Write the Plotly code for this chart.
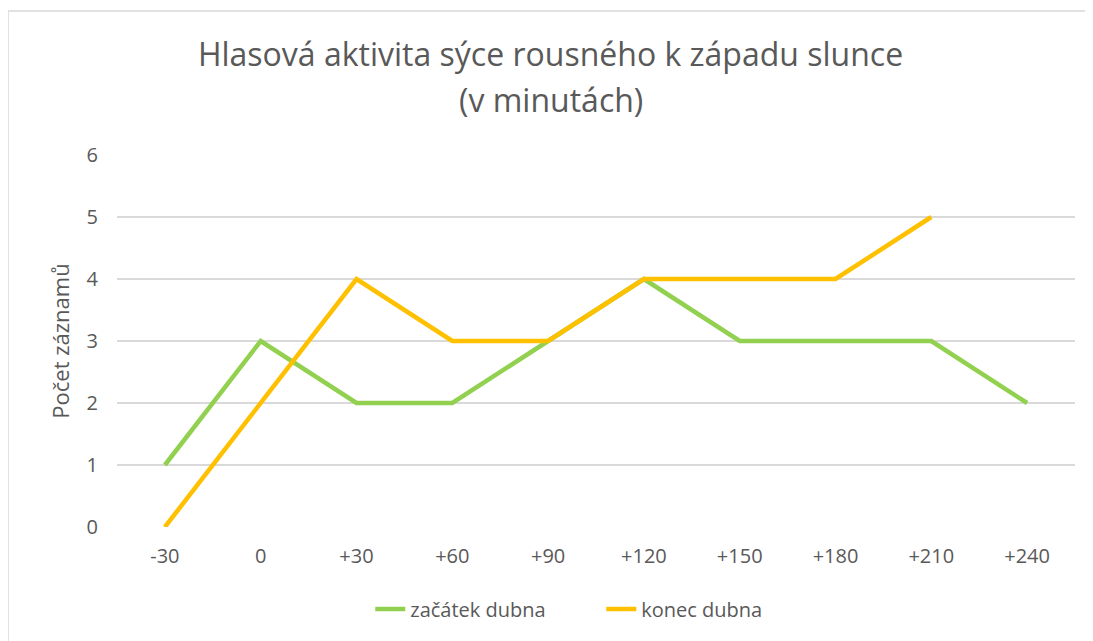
import plotly.graph_objects as go

categories = ["-30", "0", "+30", "+60", "+90", "+120", "+150", "+180", "+210", "+240"]
zacatek_dubna = [1, 3, 2, 2, 3, 4, 3, 3, 3, 2]
konec_dubna = [0, 2, 4, 3, 3, 4, 4, 4, 5, None]

title_line1 = "Hlasová aktivita sýce rousného k západu slunce"
title_line2 = "(v minutách)"

FONT = "Open Sans"
TXT = "#595959"

W, H = 1085, 633
L, R, T, B = 109, 18, 147, 114
PW, PH = W - L - R, H - T - B

fig = go.Figure()
fig.add_trace(go.Scatter(x=categories, y=zacatek_dubna, mode="lines", name="začátek dubna",
                         line=dict(color="#92d050", width=4.5)))
fig.add_trace(go.Scatter(x=categories, y=konec_dubna, mode="lines", name="konec dubna",
                         line=dict(color="#ffc000", width=4.5), connectgaps=False))

fig.update_layout(
    width=W, height=H,
    margin=dict(l=L, r=R, t=T, b=B),
    paper_bgcolor="white", plot_bgcolor="white",
    font=dict(family=FONT, color=TXT, size=20),
    title=dict(text=title_line1,
               x=0.5, xanchor="center", xref="container",
               y=1 - 47 / H, yanchor="middle", yref="container",
               font=dict(family=FONT, size=32, color=TXT)),
    annotations=[dict(text=title_line2, xref="paper", yref="paper",
                      x=(W / 2 - L) / PW, xanchor="center",
                      y=(H - B - 92) / PH, yanchor="middle", showarrow=False,
                      font=dict(family=FONT, size=32, color=TXT))],
    showlegend=True,
    legend=dict(orientation="h", x=0.5055, xanchor="center", y=(519 - 601) / PH, yanchor="middle",
                font=dict(family=FONT, size=20, color=TXT), entrywidth=186,
                traceorder="normal"),
    xaxis=dict(type="category", range=[-0.5, 9.5], showgrid=False, zeroline=False, showline=False,
               ticks="", ticklabelstandoff=15, tickfont=dict(size=20, color=TXT)),
    yaxis=dict(range=[0, 6], dtick=1, showgrid=True, gridcolor="#d9d9d9", gridwidth=1.5,
               zeroline=False, showline=False, ticks="", ticklabelstandoff=18,
               tickfont=dict(size=20, color=TXT),
               title=dict(text="Počet záznamů", font=dict(size=22, color=TXT), standoff=10)),
    shapes=[dict(type="rect", xref="paper", yref="paper",
                 x0=(0 - L) / PW, x1=(W + 10 - L) / PW,
                 y0=(H - B - (H + 10)) / PH, y1=(H - B - 3) / PH,
                 line=dict(color="#d9d9d9", width=1.5), fillcolor="rgba(0,0,0,0)", layer="below")],
)

fig.write_html("out.html")
